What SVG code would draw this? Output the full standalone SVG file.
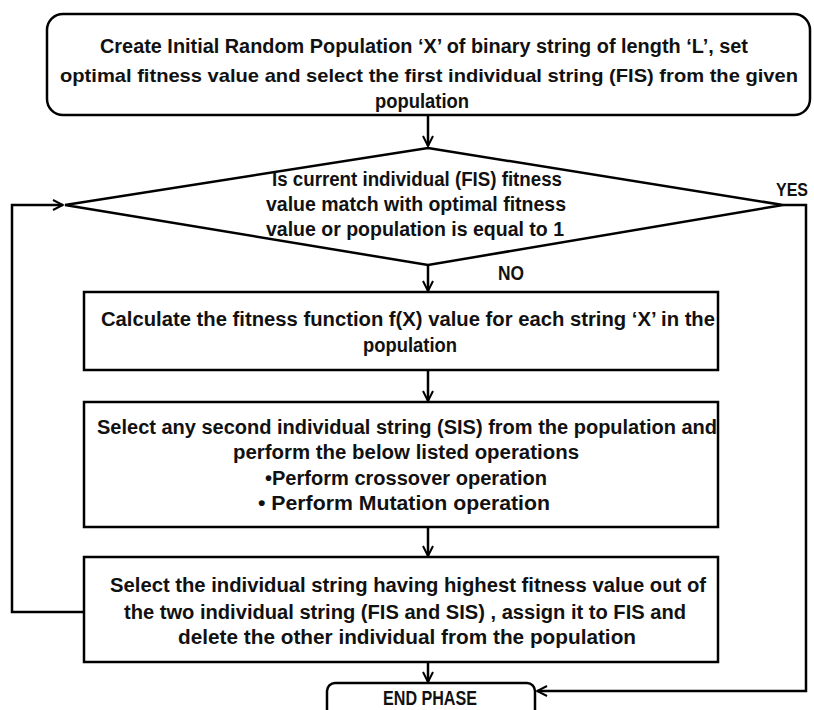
<svg xmlns="http://www.w3.org/2000/svg" width="814" height="710" viewBox="0 0 814 710">
<style>
.box{fill:#ffffff;stroke:#000;stroke-width:2.5}
.t{font-family:"Liberation Sans",Arial,sans-serif;font-weight:bold;font-size:20px;fill:#111;text-anchor:middle}
.c{fill:none;stroke:#000;stroke-width:2.5}
</style>
<defs>
<marker id="ah" viewBox="0 0 12 12" refX="11" refY="6" markerWidth="12" markerHeight="12" markerUnits="userSpaceOnUse" orient="auto">
<path d="M1,1 L11,6 L1,11" fill="none" stroke="#000" stroke-width="2"/>
</marker>
</defs>
<rect width="814" height="710" fill="#fff"/>
<g id="connectors">
<line class="c" x1="428" y1="116" x2="428" y2="146" marker-end="url(#ah)"/>
<line class="c" x1="428" y1="265" x2="428" y2="291" marker-end="url(#ah)"/>
<line class="c" x1="428" y1="371" x2="428" y2="401" marker-end="url(#ah)"/>
<line class="c" x1="428" y1="528" x2="428" y2="556" marker-end="url(#ah)"/>
<line class="c" x1="428" y1="663" x2="428" y2="682" marker-end="url(#ah)"/>
<polyline class="c" points="84,612 12,612 12,205 63,205" marker-end="url(#ah)"/>
<polyline class="c" points="783,205 806,205 806,691 537,691" marker-end="url(#ah)"/>
<text class="t" x="792" y="196" style="font-size:18px" textLength="32" lengthAdjust="spacingAndGlyphs">YES</text>
<text class="t" x="511" y="280" textLength="26" lengthAdjust="spacingAndGlyphs">NO</text>
</g>
<g id="start">
<rect class="box" x="47" y="14" width="763" height="101" rx="16"/>
<text class="t" x="424" y="53" textLength="648" lengthAdjust="spacingAndGlyphs">Create Initial Random Population ‘X’ of binary string of length ‘L’,  set</text>
<text class="t" x="429" y="82" style="font-size:19px" textLength="738" lengthAdjust="spacingAndGlyphs">optimal fitness value and select the first individual string (FIS) from the given</text>
<text class="t" x="422" y="108" textLength="94" lengthAdjust="spacingAndGlyphs">population</text>
</g>
<g id="decision">
<polygon class="box" points="428,148 783,205 428,265 65,205"/>
<text class="t" x="417" y="186" textLength="290" lengthAdjust="spacingAndGlyphs">Is current individual (FIS) fitness</text>
<text class="t" x="416" y="211" textLength="300" lengthAdjust="spacingAndGlyphs">value match with optimal fitness</text>
<text class="t" x="415" y="236" textLength="298" lengthAdjust="spacingAndGlyphs">value or population is equal to 1</text>
</g>
<g id="fitness">
<rect class="box" x="84" y="292" width="634" height="78"/>
<text class="t" x="408" y="326" textLength="614" lengthAdjust="spacingAndGlyphs">Calculate the fitness function f(X) value for each string  ‘X’ in the</text>
<text class="t" x="410" y="352" textLength="94" lengthAdjust="spacingAndGlyphs">population</text>
</g>
<g id="select">
<rect class="box" x="84" y="402" width="634" height="125"/>
<text class="t" x="407" y="434" textLength="620" lengthAdjust="spacingAndGlyphs">Select any second individual string (SIS) from the population and</text>
<text class="t" x="406" y="459" textLength="346" lengthAdjust="spacingAndGlyphs">perform the below listed operations</text>
<text class="t" x="406" y="485" textLength="282" lengthAdjust="spacingAndGlyphs">•Perform crossover operation</text>
<text class="t" x="404" y="510" textLength="292" lengthAdjust="spacingAndGlyphs">• Perform Mutation operation</text>
</g>
<g id="choose">
<rect class="box" x="84" y="557" width="634" height="105"/>
<text class="t" x="408" y="592" textLength="596" lengthAdjust="spacingAndGlyphs">Select the  individual string having highest fitness value out of</text>
<text class="t" x="405" y="619" textLength="562" lengthAdjust="spacingAndGlyphs">the two individual string (FIS and SIS) , assign  it to FIS  and</text>
<text class="t" x="407" y="644" textLength="458" lengthAdjust="spacingAndGlyphs">delete the other individual from the population</text>
</g>
<g id="end">
<rect class="box" x="327" y="683" width="208" height="40" rx="8"/>
<text class="t" x="430" y="705" textLength="94" lengthAdjust="spacingAndGlyphs">END PHASE</text>
</g>
</svg>
